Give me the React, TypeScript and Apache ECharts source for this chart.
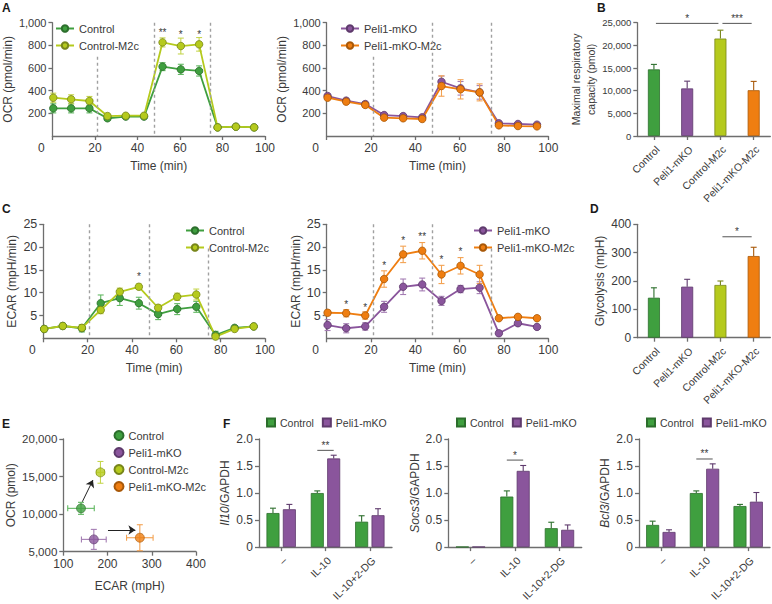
import React, { useEffect, useRef } from 'react';
import * as echarts from 'echarts';

// ---------- data ----------
const TIMES = [0.4, 8.8, 17.4, 25.9, 34.5, 43.1, 51.8, 60.4, 69.0, 77.7, 86.3, 94.9];
const INJECTION_TIMES = [20.9, 47.7, 74.3];

// Panel A: OCR (pmol/min)
const OCR_CONTROL = [244, 244, 244, 156, 171, 171, 612, 588, 574, 76, 82, 76];
const OCR_CONTROL_SEM = [40, 40, 40, 20, 15, 15, 35, 45, 45, 10, 10, 10];
const OCR_CONTROL_M2C = [338, 324, 309, 176, 179, 179, 826, 794, 809, 76, 82, 76];
const OCR_CONTROL_M2C_SEM = [40, 40, 40, 20, 15, 15, 40, 70, 60, 10, 10, 10];
const OCR_PELI = [353, 312, 282, 185, 176, 165, 479, 421, 385, 112, 106, 100];
const OCR_PELI_SEM = [20, 20, 20, 15, 15, 15, 50, 60, 60, 10, 10, 10];
const OCR_PELI_M2C = [338, 303, 274, 162, 156, 150, 441, 412, 385, 94, 88, 85];
const OCR_PELI_M2C_SEM = [20, 20, 20, 15, 15, 15, 90, 85, 75, 10, 10, 10];
const OCR_SIG_TIMES = [51.8, 60.4, 69.0];
const OCR_SIG_Y = [928, 915, 915];
const OCR_SIG_TEXT = ['**', '*', '*'];
const OCR_DASH_TOPS_LEFT = [700, 1000, 1000];
const OCR_DASH_TOPS_RIGHT = [700, 1000, 1000];

// Panel B: maximal respiratory capacity (pmol)
const GROUPS = ['Control', 'Peli1-mKO', 'Control-M2c', 'Peli1-mKO-M2c'];
const MAX_RESP = [14700, 10500, 21500, 10100];
const MAX_RESP_SEM = [1100, 1600, 1850, 1950];
const MAX_RESP_SIG_FROM = [0, 2];
const MAX_RESP_SIG_TO = [2, 3];
const MAX_RESP_SIG_Y = [24850, 24850];
const MAX_RESP_SIG_TEXT = ['*', '***'];

// Panel C: ECAR (mpH/min)
const ECAR_CONTROL = [2.05, 2.7, 2.2, 7.7, 8.8, 7.7, 5.3, 6.4, 6.9, 0.73, 2.3, 2.6];
const ECAR_CONTROL_SEM = [0.6, 0.6, 0.8, 1.8, 1.6, 1.3, 1.2, 1.2, 1.2, 0.8, 0.4, 0.3];
const ECAR_CONTROL_M2C = [2.05, 2.7, 2.3, 6.2, 10.2, 11.3, 6.7, 9.1, 9.6, 0.37, 2.05, 2.6];
const ECAR_CONTROL_M2C_SEM = [0.4, 0.5, 0.6, 0.8, 0.8, 0.6, 0.6, 0.8, 1.2, 0.3, 0.3, 0.3];
const ECAR_PELI = [2.9, 2.2, 2.6, 6.9, 11.3, 11.8, 8.2, 10.8, 11.1, 1.1, 3.3, 2.5];
const ECAR_PELI_SEM = [1.2, 1.0, 0.8, 1.2, 1.7, 1.4, 1.0, 0.8, 1.3, 0.5, 0.5, 0.4];
const ECAR_PELI_M2C = [5.6, 5.5, 5.0, 13.0, 18.4, 19.2, 14.0, 15.9, 14.0, 4.4, 4.7, 4.4];
const ECAR_PELI_M2C_SEM = [0.6, 0.8, 0.8, 1.8, 1.8, 1.8, 2.0, 1.8, 2.0, 0.4, 0.4, 0.4];
const ECAR_CTRL_SIG_TIMES = [43.1];
const ECAR_CTRL_SIG_Y = [13.9];
const ECAR_CTRL_SIG_TEXT = ['*'];
const ECAR_PELI_SIG_TIMES = [8.8, 17.4, 25.9, 34.5, 43.1, 51.8, 60.4];
const ECAR_PELI_SIG_Y = [7.9, 7.3, 16.4, 21.9, 22.7, 17.7, 19.4];
const ECAR_PELI_SIG_TEXT = ['*', '*', '*', '*', '**', '*', '*'];
const ECAR_DASH_TOPS = [25, 25, 19.7];

// Panel D: glycolysis (mpH)
const GLYCOLYSIS = [141, 180, 186, 288];
const GLYCOLYSIS_SEM = [35, 26, 14, 31];
const GLY_SIG_FROM = [2];
const GLY_SIG_TO = [3];
const GLY_SIG_Y = [356];
const GLY_SIG_TEXT = ['*'];

// Panel E: energy map
const E_ECAR = [140, 169, 184, 273];
const E_ECAR_SEM = [30, 28, 9, 30];
const E_OCR = [10770, 6640, 15560, 6860];
const E_OCR_SEM = [800, 1330, 1450, 1730];
const E_ARROW_FROM = [[143, 11650], [201, 7885]];
const E_ARROW_TO = [[167, 14530], [263, 7885]];

// Panel F: qPCR
const F_CATS = ['\u2013', 'IL-10', 'IL-10+2-DG'];
const IL10_CONTROL = [0.63, 1.0, 0.47];
const IL10_CONTROL_SEM = [0.09, 0.04, 0.11];
const IL10_PELI = [0.70, 1.64, 0.59];
const IL10_PELI_SEM = [0.09, 0.06, 0.12];
const SOCS3_CONTROL = [0.005, 0.935, 0.35];
const SOCS3_CONTROL_SEM = [0, 0.105, 0.11];
const SOCS3_PELI = [0.005, 1.41, 0.32];
const SOCS3_PELI_SEM = [0, 0.1, 0.09];
const BCL3_CONTROL = [0.41, 1.0, 0.76];
const BCL3_CONTROL_SEM = [0.07, 0.04, 0.03];
const BCL3_PELI = [0.28, 1.45, 0.84];
const BCL3_PELI_SEM = [0.04, 0.09, 0.17];
const F_SIG_CAT = [1];
const IL10_SIG_Y = [1.79];
const SOCS3_SIG_Y = [1.61];
const BCL3_SIG_Y = [1.63];
const IL10_SIG_TEXT = ['**'];
const SOCS3_SIG_TEXT = ['*'];
const BCL3_SIG_TEXT = ['**'];

// ---------- styles ----------
const FONT = '"Liberation Sans", Arial, sans-serif';
const TEXT = '#3a3a3a';
const AXIS = '#6e6e6e';
const GREEN = '#3f9f3f';
const PURPLE = '#8a559c';
const LIME = '#b5ca1d';
const ORANGE = '#ef7e11';
const GREEN_D = '#2c6e2c';
const PURPLE_D = '#5e3a6c';
const LIME_D = '#78861a';
const ORANGE_D = '#a85808';
const GREEN_L = '#62b862';
const PURPLE_L = '#a47db3';
const LIME_L = '#c6d650';
const ORANGE_L = '#f3a252';
const COLORS = [GREEN, PURPLE, LIME, ORANGE];
const COLORS_D = [GREEN_D, PURPLE_D, LIME_D, ORANGE_D];
const COLORS_L = [GREEN_L, PURPLE_L, LIME_L, ORANGE_L];

const axisLine = { show: true, onZero: false, lineStyle: { color: AXIS, width: 1.3 } };
const axisTick = { show: true, length: 4, lineStyle: { color: AXIS, width: 1.3 } };

function timeAxis(gi: number) {
  return {
    type: 'value', gridIndex: gi, min: 0, max: 100, interval: 20,
    axisLine, axisTick, splitLine: { show: false },
    axisLabel: {
      fontSize: 12, color: TEXT, margin: 6, fontFamily: FONT,
      formatter: (v: number) => (v === 0 ? '{z|0}' : String(v)),
      rich: { z: { fontSize: 12, color: TEXT, fontFamily: FONT, padding: [0, 22, 0, 0] } },
    },
    name: 'Time (min)', nameLocation: 'middle', nameGap: 24,
    nameTextStyle: { fontSize: 12, color: TEXT, fontFamily: FONT },
  };
}

function valueAxis(gi: number, min: number, max: number, interval: number, o: any) {
  return {
    type: 'value', gridIndex: gi, min, max, interval,
    axisLine, axisTick, splitLine: { show: false },
    axisLabel: {
      fontSize: o.fontSize ?? 11, color: TEXT, margin: 6, fontFamily: FONT,
      showMinLabel: o.showMin ?? true,
      formatter: o.formatter ?? ((v: number) => v.toLocaleString('en-US')),
    },
    name: o.name, nameLocation: 'middle', nameGap: o.nameGap ?? 30,
    nameTextStyle: {
      fontSize: o.nameSize ?? 12, color: TEXT, fontFamily: FONT, lineHeight: o.lineHeight ?? 14,
      rich: o.rich,
    },
  };
}

function catAxis(gi: number, data: string[], fontSize: number) {
  return {
    type: 'category', gridIndex: gi, data,
    axisLine, axisTick: { ...axisTick, alignWithLabel: true },
    axisLabel: { rotate: 45, interval: 0, fontSize, color: TEXT, margin: 8, verticalAlign: 'top', fontFamily: FONT },
    splitLine: { show: false },
  };
}

function lineSeries(gi: number, name: string, values: number[], color: string, dark: string, extra: any = {}) {
  return {
    type: 'line', name, xAxisIndex: gi, yAxisIndex: gi, z: 4,
    data: TIMES.map((t, i) => [t, values[i]]),
    symbol: 'circle', symbolSize: 7.5,
    lineStyle: { color, width: 1.8 },
    itemStyle: { color, borderColor: dark, borderWidth: 0.8 },
    ...extra,
  };
}

function dashMarks(tops: number[]) {
  return {
    silent: true, symbol: 'none', label: { show: false },
    lineStyle: { color: '#a0a0a0', type: [3, 3], width: 1.4 },
    data: INJECTION_TIMES.map((t, i) => [{ coord: [t, tops[i]] }, { coord: [t, 0] }]),
  };
}

function errSeries(gi: number, xs: number[], ys: number[], es: number[], color: string, o: any = {}) {
  const up = !!o.up;
  const dx = o.dx ?? 0;
  const cap = o.cap ?? 3;
  return {
    type: 'custom', xAxisIndex: gi, yAxisIndex: gi, silent: true, z: o.z ?? 3,
    data: xs.map((x, i) => [x, ys[i], es[i]]),
    encode: { x: 0, y: 1 },
    renderItem: (params: any, api: any) => {
      const x = api.value(0), y = api.value(1), e = api.value(2);
      if (!e) return { type: 'group', children: [] };
      const p0 = api.coord([x, y]);
      const pt = api.coord([x, y + e]);
      const pb = up ? p0 : api.coord([x, y - e]);
      const cx = p0[0] + dx;
      const st = { stroke: color, lineWidth: 1.1 };
      const children: any[] = [
        { type: 'line', shape: { x1: cx, y1: pt[1], x2: cx, y2: pb[1] }, style: st },
        { type: 'line', shape: { x1: cx - cap, y1: pt[1], x2: cx + cap, y2: pt[1] }, style: st },
      ];
      if (!up) children.push({ type: 'line', shape: { x1: cx - cap, y1: pb[1], x2: cx + cap, y2: pb[1] }, style: st });
      return { type: 'group', children };
    },
  };
}

function starSeries(gi: number, xs: number[], ys: number[], texts: string[]) {
  return {
    type: 'custom', xAxisIndex: gi, yAxisIndex: gi, silent: true, z: 6,
    data: xs.map((x, i) => [x, ys[i]]),
    encode: { x: 0, y: 1 },
    renderItem: (params: any, api: any) => {
      const p = api.coord([api.value(0), api.value(1)]);
      return {
        type: 'text', x: p[0], y: p[1] + 2,
        style: { text: texts[params.dataIndex], textAlign: 'center', textVerticalAlign: 'middle', fontSize: 10, fontFamily: FONT, fill: TEXT },
      };
    },
  };
}

function sigSeries(gi: number, from: number[], to: number[], ys: number[], texts: string[], pairOffset = 0) {
  return {
    type: 'custom', xAxisIndex: gi, yAxisIndex: gi, silent: true, z: 6,
    data: from.map((f, i) => [f, ys[i], to[i]]),
    encode: { x: 0, y: 1 },
    renderItem: (params: any, api: any) => {
      const a = api.coord([api.value(0), api.value(1)]);
      const b = api.coord([api.value(2), api.value(1)]);
      let x1 = a[0] + 2, x2 = b[0] - 2;
      if (pairOffset) { x1 = a[0] - pairOffset; x2 = a[0] + pairOffset; }
      return {
        type: 'group', children: [
          { type: 'line', shape: { x1, y1: a[1], x2, y2: a[1] }, style: { stroke: '#555', lineWidth: 1 } },
          {
            type: 'text', x: (x1 + x2) / 2, y: a[1] - 5,
            style: { text: texts[params.dataIndex], textAlign: 'center', textVerticalAlign: 'middle', fontSize: 10, fontFamily: FONT, fill: TEXT },
          },
        ],
      };
    },
  };
}

function singleBars(gi: number, values: number[]) {
  return {
    type: 'bar', xAxisIndex: gi, yAxisIndex: gi, barWidth: 12, z: 2,
    data: values.map((v, i) => ({ value: v, itemStyle: { color: COLORS[i], borderColor: COLORS_D[i], borderWidth: 0.8 } })),
  };
}

function groupBars(gi: number, name: string, values: number[], color: string, dark: string) {
  return {
    type: 'bar', name, xAxisIndex: gi, yAxisIndex: gi, barWidth: 13, barGap: '26%', z: 2,
    data: values, itemStyle: { color, borderColor: dark, borderWidth: 0.8 },
  };
}

const legendText = { fontSize: 11, color: TEXT, fontFamily: FONT };

function lineLegend(left: number, top: number, data: string[]) {
  return {
    left, top, orient: 'vertical', padding: 0, itemGap: 4, itemWidth: 18, itemHeight: 8,
    selectedMode: false, textStyle: { ...legendText, lineHeight: 13 }, data,
  };
}

function rectLegend(left: number, top: number) {
  return {
    left, top, width: 160, orient: 'horizontal', padding: 0, itemGap: 8, itemWidth: 8, itemHeight: 8,
    selectedMode: false, textStyle: { ...legendText, fontSize: 10.5 }, icon: 'rect',
    data: [{ name: 'Control', icon: 'rect' }, { name: 'Peli1-mKO', icon: 'rect' }],
  };
}

function buildOption() {
  const grids = [
    { left: 43.3, top: 22.7, width: 221.7, height: 113.3 },
    { left: 326.7, top: 22.7, width: 221.6, height: 113.3 },
    { left: 637.3, top: 22.7, width: 133, height: 113.3 },
    { left: 43.3, top: 224.3, width: 221.7, height: 114 },
    { left: 326.7, top: 224.3, width: 221.6, height: 114 },
    { left: 637.3, top: 224.3, width: 133, height: 113.4 },
    { left: 63.3, top: 439, width: 132.7, height: 112.7 },
    { left: 259, top: 439, width: 133, height: 113.3 },
    { left: 448.3, top: 439, width: 133.4, height: 113.3 },
    { left: 639, top: 439, width: 131, height: 113.3 },
  ];

  const fFmt = (v: number) => (v === 0 ? '0' : v.toFixed(1));
  const italic = { i: { fontStyle: 'italic', fontSize: 12, color: TEXT, fontFamily: FONT } };

  const xAxis = [
    timeAxis(0), timeAxis(1),
    catAxis(2, GROUPS, 10.5),
    timeAxis(3), timeAxis(4),
    catAxis(5, GROUPS, 10.5),
    valueAxis(6, 100, 400, 100, { fontSize: 12, formatter: (v: number) => String(v), name: 'ECAR (mpH)', nameGap: 27 }),
    catAxis(7, F_CATS, 10.5), catAxis(8, F_CATS, 10.5), catAxis(9, F_CATS, 10.5),
  ];

  const yAxis = [
    valueAxis(0, 0, 1000, 200, { showMin: false, name: 'OCR (pmol/min)', nameGap: 30 }),
    valueAxis(1, 0, 1000, 200, { showMin: false, name: 'OCR (pmol/min)', nameGap: 30 }),
    valueAxis(2, 0, 25000, 5000, { fontSize: 9.5, name: 'Maximal respiratory\ncapacity (pmol)', nameGap: 27, lineHeight: 15, nameSize: 10.5 }),
    valueAxis(3, 0, 25, 5, { fontSize: 12.5, showMin: false, name: 'ECAR (mpH/min)', nameGap: 24 }),
    valueAxis(4, 0, 25, 5, { fontSize: 12.5, showMin: false, name: 'ECAR (mpH/min)', nameGap: 24 }),
    valueAxis(5, 0, 400, 100, { fontSize: 12, name: 'Glycolysis (mpH)', nameGap: 28 }),
    valueAxis(6, 5000, 20000, 5000, { fontSize: 11.5, name: 'OCR (pmol)', nameGap: 44 }),
    valueAxis(7, 0, 2, 0.5, { fontSize: 12, formatter: fFmt, name: '{i|Il10}/GAPDH', nameGap: 22, rich: italic }),
    valueAxis(8, 0, 2, 0.5, { fontSize: 12, formatter: fFmt, name: '{i|Socs3}/GAPDH', nameGap: 24, rich: italic }),
    valueAxis(9, 0, 2, 0.5, { fontSize: 12, formatter: fFmt, name: '{i|Bcl3}/GAPDH', nameGap: 24, rich: italic }),
  ];

  const series: any[] = [
    // A left
    errSeries(0, TIMES, OCR_CONTROL, OCR_CONTROL_SEM, GREEN_L),
    errSeries(0, TIMES, OCR_CONTROL_M2C, OCR_CONTROL_M2C_SEM, LIME_L),
    lineSeries(0, 'Control', OCR_CONTROL, GREEN, GREEN_D, { markLine: dashMarks(OCR_DASH_TOPS_LEFT) }),
    lineSeries(0, 'Control-M2c', OCR_CONTROL_M2C, LIME, LIME_D),
    starSeries(0, OCR_SIG_TIMES, OCR_SIG_Y, OCR_SIG_TEXT),
    // A right
    errSeries(1, TIMES, OCR_PELI, OCR_PELI_SEM, PURPLE_L),
    errSeries(1, TIMES, OCR_PELI_M2C, OCR_PELI_M2C_SEM, ORANGE_L),
    lineSeries(1, 'Peli1-mKO', OCR_PELI, PURPLE, PURPLE_D, { markLine: dashMarks(OCR_DASH_TOPS_RIGHT) }),
    lineSeries(1, 'Peli1-mKO-M2c', OCR_PELI_M2C, ORANGE, ORANGE_D),
    // B
    singleBars(2, MAX_RESP),
    ...[0, 1, 2, 3].map((i) => errSeries(2, [i], [MAX_RESP[i]], [MAX_RESP_SEM[i]], COLORS_D[i], { up: true, z: 4 })),
    sigSeries(2, MAX_RESP_SIG_FROM, MAX_RESP_SIG_TO, MAX_RESP_SIG_Y, MAX_RESP_SIG_TEXT),
    // C left
    errSeries(3, TIMES, ECAR_CONTROL, ECAR_CONTROL_SEM, GREEN_L),
    errSeries(3, TIMES, ECAR_CONTROL_M2C, ECAR_CONTROL_M2C_SEM, LIME_L),
    lineSeries(3, 'Control', ECAR_CONTROL, GREEN, GREEN_D, { markLine: dashMarks(ECAR_DASH_TOPS) }),
    lineSeries(3, 'Control-M2c', ECAR_CONTROL_M2C, LIME, LIME_D),
    starSeries(3, ECAR_CTRL_SIG_TIMES, ECAR_CTRL_SIG_Y, ECAR_CTRL_SIG_TEXT),
    // C right
    errSeries(4, TIMES, ECAR_PELI, ECAR_PELI_SEM, PURPLE_L),
    errSeries(4, TIMES, ECAR_PELI_M2C, ECAR_PELI_M2C_SEM, ORANGE_L),
    lineSeries(4, 'Peli1-mKO', ECAR_PELI, PURPLE, PURPLE_D, { markLine: dashMarks(ECAR_DASH_TOPS) }),
    lineSeries(4, 'Peli1-mKO-M2c', ECAR_PELI_M2C, ORANGE, ORANGE_D),
    starSeries(4, ECAR_PELI_SIG_TIMES, ECAR_PELI_SIG_Y, ECAR_PELI_SIG_TEXT),
    // D
    singleBars(5, GLYCOLYSIS),
    ...[0, 1, 2, 3].map((i) => errSeries(5, [i], [GLYCOLYSIS[i]], [GLYCOLYSIS_SEM[i]], COLORS_D[i], { up: true, z: 4 })),
    sigSeries(5, GLY_SIG_FROM, GLY_SIG_TO, GLY_SIG_Y, GLY_SIG_TEXT),
  ];

  // E: error crosses + points
  GROUPS.forEach((g, i) => {
    series.push({
      type: 'custom', xAxisIndex: 6, yAxisIndex: 6, silent: true, z: 3,
      data: [[E_ECAR[i], E_OCR[i], E_ECAR_SEM[i], E_OCR_SEM[i]]],
      encode: { x: 0, y: 1 },
      renderItem: (params: any, api: any) => {
        const x = api.value(0), y = api.value(1), ex = api.value(2), ey = api.value(3);
        const l = api.coord([x - ex, y]), r = api.coord([x + ex, y]);
        const t = api.coord([x, y + ey]), b = api.coord([x, y - ey]);
        const st = { stroke: COLORS_L[i], lineWidth: 1.1 };
        const cap = 3;
        return {
          type: 'group', children: [
            { type: 'line', shape: { x1: l[0], y1: l[1], x2: r[0], y2: r[1] }, style: st },
            { type: 'line', shape: { x1: l[0], y1: l[1] - cap, x2: l[0], y2: l[1] + cap }, style: st },
            { type: 'line', shape: { x1: r[0], y1: r[1] - cap, x2: r[0], y2: r[1] + cap }, style: st },
            { type: 'line', shape: { x1: t[0], y1: t[1], x2: b[0], y2: b[1] }, style: st },
            { type: 'line', shape: { x1: t[0] - cap, y1: t[1], x2: t[0] + cap, y2: t[1] }, style: st },
            { type: 'line', shape: { x1: b[0] - cap, y1: b[1], x2: b[0] + cap, y2: b[1] }, style: st },
          ],
        };
      },
    });
    series.push({
      type: 'scatter', name: g, xAxisIndex: 6, yAxisIndex: 6, z: 4,
      data: [[E_ECAR[i], E_OCR[i]]], symbol: 'circle', symbolSize: 9,
      itemStyle: { color: COLORS[i], borderColor: COLORS_D[i], borderWidth: 0.8 },
      markLine: i === 0 ? {
        silent: true, symbol: ['none', 'arrow'], symbolSize: 7, label: { show: false },
        lineStyle: { color: '#222', width: 1, type: 'solid' },
        data: E_ARROW_FROM.map((f, k) => [{ coord: f }, { coord: E_ARROW_TO[k] }]),
      } : undefined,
    });
  });

  // F panels
  const fPanels = [
    { gi: 7, c: IL10_CONTROL, cs: IL10_CONTROL_SEM, p: IL10_PELI, ps: IL10_PELI_SEM, sy: IL10_SIG_Y, st: IL10_SIG_TEXT },
    { gi: 8, c: SOCS3_CONTROL, cs: SOCS3_CONTROL_SEM, p: SOCS3_PELI, ps: SOCS3_PELI_SEM, sy: SOCS3_SIG_Y, st: SOCS3_SIG_TEXT },
    { gi: 9, c: BCL3_CONTROL, cs: BCL3_CONTROL_SEM, p: BCL3_PELI, ps: BCL3_PELI_SEM, sy: BCL3_SIG_Y, st: BCL3_SIG_TEXT },
  ];
  fPanels.forEach((f) => {
    const idx = [0, 1, 2];
    series.push(groupBars(f.gi, 'Control', f.c, GREEN, GREEN_D));
    series.push(groupBars(f.gi, 'Peli1-mKO', f.p, PURPLE, PURPLE_D));
    series.push(errSeries(f.gi, idx, f.c, f.cs, GREEN_D, { up: true, dx: -8.2, z: 4 }));
    series.push(errSeries(f.gi, idx, f.p, f.ps, PURPLE_D, { up: true, dx: 8.2, z: 4 }));
    series.push(sigSeries(f.gi, F_SIG_CAT, F_SIG_CAT, f.sy, f.st, 8.2));
  });

  const letter = (t: string, x: number, y: number) => ({
    type: 'text', x, y, style: { text: t, fontSize: 12, fontWeight: 'bold', fontFamily: FONT, fill: '#1a1a1a' },
  });

  return {
    animation: false,
    backgroundColor: '#ffffff',
    textStyle: { fontFamily: FONT },
    grid: grids,
    xAxis,
    yAxis,
    legend: [
      lineLegend(55, 22, ['Control', 'Control-M2c']),
      lineLegend(340, 22, ['Peli1-mKO', 'Peli1-mKO-M2c']),
      lineLegend(185, 224, ['Control', 'Control-M2c']),
      lineLegend(473, 224, ['Peli1-mKO', 'Peli1-mKO-M2c']),
      {
        left: 113.5, top: 429, orient: 'vertical', padding: 0, itemGap: 4, itemWidth: 9, itemHeight: 9,
        selectedMode: false, textStyle: { ...legendText, lineHeight: 13 },
        data: GROUPS.map((g) => ({ name: g, icon: 'circle' })),
      },
      rectLegend(266, 417),
      rectLegend(456, 417),
      rectLegend(646, 417),
    ],
    graphic: [
      letter('A', 2, 2), letter('B', 597, 2), letter('C', 2, 203),
      letter('D', 590, 203), letter('E', 2, 418), letter('F', 223, 418),
    ],
    series,
  };
}

export default function App() {
  const ref = useRef<HTMLDivElement>(null);
  useEffect(() => {
    if (!ref.current) return;
    const chart = echarts.init(ref.current, null, { renderer: 'svg' });
    chart.setOption(buildOption() as any);
    return () => chart.dispose();
  }, []);
  return (
    <div
      ref={ref}
      style={{ position: 'fixed', left: 0, top: 0, width: 772, height: 604, background: '#fff' }}
    />
  );
}
